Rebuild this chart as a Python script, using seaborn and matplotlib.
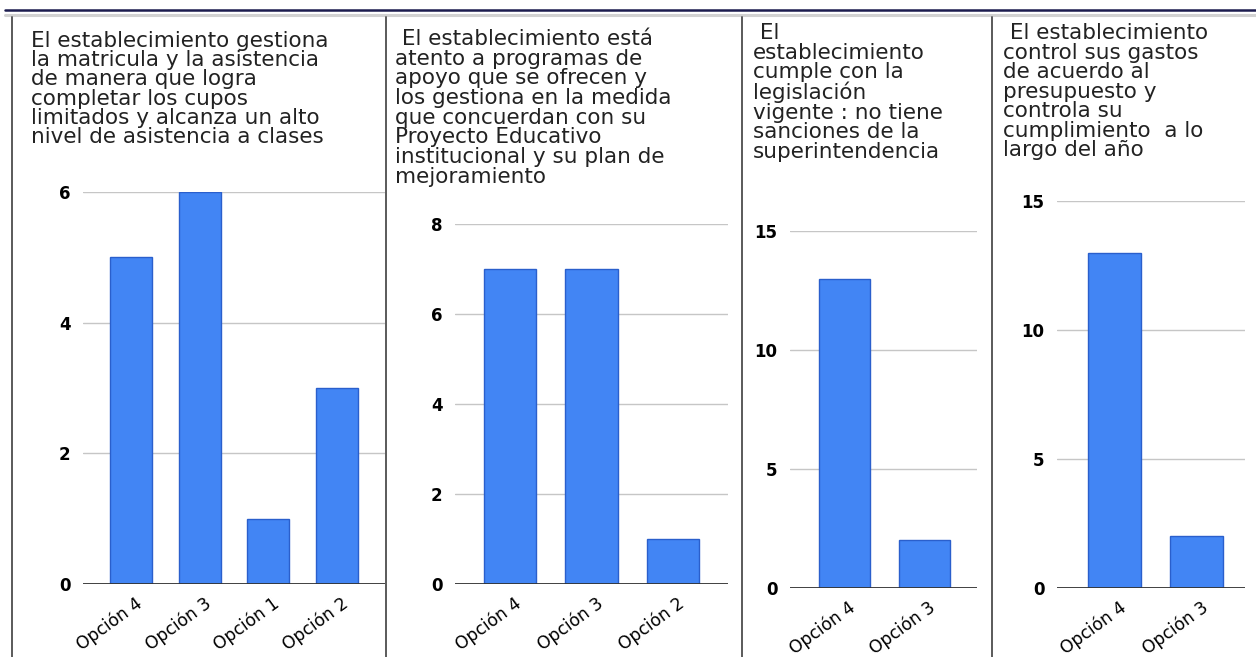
import matplotlib
matplotlib.use("Agg")
import matplotlib.pyplot as plt
from matplotlib.lines import Line2D
from matplotlib.transforms import ScaledTranslation
import seaborn as sns
import pandas as pd

# --- data -------------------------------------------------------------
titles = [
    "El establecimiento gestiona\nla matricula y la asistencia\nde manera que logra\ncompletar los cupos\nlimitados y alcanza un alto\nnivel de asistencia a clases",
    " El establecimiento está\natento a programas de\napoyo que se ofrecen y\nlos gestiona en la medida\nque concuerdan con su\nProyecto Educativo\ninstitucional y su plan de\nmejoramiento",
    " El\nestablecimiento\ncumple con la\nlegislación\nvigente : no tiene\nsanciones de la\nsuperintendencia",
    " El establecimiento\ncontrol sus gastos\nde acuerdo al\npresupuesto y\ncontrola su\ncumplimiento  a lo\nlargo del año",
]

cats1 = ["Opción 4", "Opción 3", "Opción 1", "Opción 2"]
vals1 = [5, 6, 1, 3]
cats2 = ["Opción 4", "Opción 3", "Opción 2"]
vals2 = [7, 7, 1]
cats3 = ["Opción 4", "Opción 3"]
vals3 = [13, 2]
cats4 = ["Opción 4", "Opción 3"]
vals4 = [13, 2]

yticks1 = [0, 2, 4, 6]
yticks2 = [0, 2, 4, 6, 8]
yticks3 = [0, 5, 10, 15]
yticks4 = [0, 5, 10, 15]

# --- layout (pixels) --------------------------------------------------
W, H = 1256, 657
sns.set_theme(style="white")
plt.rcParams["font.family"] = ["DejaVu Sans"]

fig = plt.figure(figsize=(W / 100, H / 100), dpi=100)
fig.patch.set_facecolor("white")


def fx(x):
    return x / W


def fy(y):
    return 1 - y / H


def add_axes_px(left, right, top, bottom):
    return fig.add_axes([fx(left), fy(bottom), (right - left) / W, (bottom - top) / H])


BAR = "#4285F4"
EDGE = "#2a5fcc"

panels = [
    dict(cats=cats1, vals=vals1, ticks=yticks1, box=(83, 385, 192, 584), xlim=(-0.70, 3.70), width=0.61,
         title_xy=(31, 31), spacing=0.95),
    dict(cats=cats2, vals=vals2, ticks=yticks2, box=(455, 728, 224, 584), xlim=(-0.67, 2.67), width=0.64,
         title_xy=(395, 29), spacing=0.98),
    dict(cats=cats3, vals=vals3, ticks=yticks3, box=(790, 977, 231, 588), xlim=(-0.68, 1.66), width=0.64,
         title_xy=(753, 23), spacing=0.97),
    dict(cats=cats4, vals=vals4, ticks=yticks4, box=(1057, 1245, 201, 588), xlim=(-0.70, 1.59), width=0.65,
         title_xy=(1003, 23), spacing=0.97),
]

for p, title in zip(panels, titles):
    left, right, top, bottom = p["box"]
    ax = add_axes_px(left, right, top, bottom)
    df = pd.DataFrame({"opcion": p["cats"], "n": p["vals"]})
    sns.barplot(data=df, x="opcion", y="n", ax=ax, color=BAR, width=p["width"],
                edgecolor=EDGE, linewidth=1.0, saturation=1)
    ax.set_xlim(*p["xlim"])
    ax.set_ylim(p["ticks"][0], p["ticks"][-1])
    ax.set_yticks(p["ticks"])
    ax.set_xlabel("")
    ax.set_ylabel("")
    for s in ax.spines.values():
        s.set_visible(False)
    ax.set_facecolor("none")
    ax.yaxis.grid(True, color="#c6c6c6", linewidth=1.0)
    ax.set_axisbelow(True)
    ax.axhline(0, color="#333333", linewidth=1.3, zorder=3)
    ax.tick_params(axis="y", length=0, pad=9, labelsize=12, labelcolor="black")
    for lab in ax.get_yticklabels():
        lab.set_fontweight("bold")
    ax.tick_params(axis="x", length=0, pad=7, labelsize=12.3, labelcolor="black")
    ax.set_xticks(range(len(p["cats"])))
    ax.set_xticklabels(p["cats"], rotation=36, ha="right", va="top", rotation_mode="anchor")
    off = ScaledTranslation(4 / 100, 0, fig.dpi_scale_trans)
    for lab in ax.get_xticklabels():
        lab.set_transform(lab.get_transform() + off)

    tx, ty = p["title_xy"]
    fig.text(fx(tx), fy(ty), title, ha="left", va="top", fontsize=15.5,
             color="#222222", linespacing=p["spacing"])

# --- frame lines --------------------------------------------------------
fig.add_artist(Line2D([fx(5), fx(1256)], [fy(10), fy(10)], color="#1c1c4e", linewidth=1.8))
fig.add_artist(Line2D([fx(5), fx(1256)], [fy(14.5), fy(14.5)], color="#d2d2d2", linewidth=2.2))
for xv in (12, 386, 742, 992):
    fig.add_artist(Line2D([fx(xv), fx(xv)], [fy(17), fy(657)], color="#5a5a5a", linewidth=1.4))

fig.savefig("out.png", dpi=100, facecolor="white")
